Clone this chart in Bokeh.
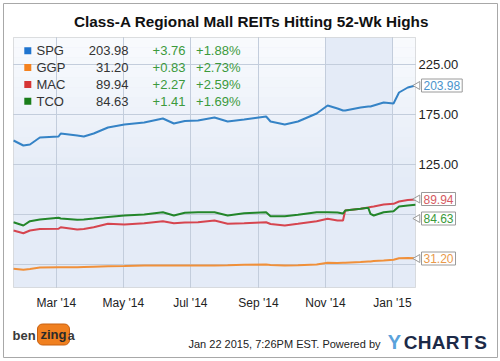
import math
import pandas as pd
from bokeh.plotting import figure
from bokeh.models import (Label, Range1d, MonthsTicker, DatetimeTickFormatter,
                          FixedTicker, NumeralTickFormatter, BoxAnnotation)
from bokeh.embed import file_html
from bokeh.resources import INLINE

# ---------------- data ----------------
dates = ["2014-01-21", "2014-01-30", "2014-02-05", "2014-02-14", "2014-03-03", "2014-03-05",
         "2014-03-20", "2014-03-26", "2014-04-04", "2014-04-17", "2014-05-02", "2014-05-20",
         "2014-06-06", "2014-06-16", "2014-06-26", "2014-07-08", "2014-07-23", "2014-08-04",
         "2014-08-19", "2014-09-08", "2014-09-12", "2014-09-25", "2014-10-07", "2014-10-24",
         "2014-11-03", "2014-11-12", "2014-11-17", "2014-11-19", "2014-12-03", "2014-12-10",
         "2014-12-12", "2014-12-15", "2014-12-24", "2015-01-02", "2015-01-07", "2015-01-15",
         "2015-01-22"]
spg = [149, 144, 145, 152, 153, 156, 154, 153, 156, 162, 165, 167, 171, 166, 168.5, 169, 172, 168,
       170, 173, 168, 165, 168, 176, 184, 181, 179, 179, 182, 183, 183, 184, 187, 186, 197, 202, 203.98]
ggp = [20.7, 19.7, 20.5, 22, 22.3, 22.3, 22.3, 22.5, 22.8, 23.2, 23.5, 24, 24, 24, 24, 24, 24, 24.2,
       24.7, 25, 24.5, 24, 24.2, 25, 26.7, 26.5, 26.7, 26.7, 27.5, 28, 28, 28.5, 29, 29.7, 31.3, 31.5, 31.20]
mac = [59, 56.3, 59, 60.5, 60.7, 62.3, 60, 60.5, 62.3, 65.7, 65, 66.3, 68.3, 66.3, 67, 67.3, 69, 65.7,
       66.3, 67.3, 65.5, 64, 65.7, 68.3, 70.7, 69, 69, 79, 80.7, 82, 82.5, 83, 85, 85.7, 88, 89.5, 89.94]
tco = [67.3, 64, 68.3, 70, 71.7, 71, 69.7, 70, 71, 72.5, 74, 75, 77.3, 74, 76.7, 77.3, 77.3, 74,
       76.3, 77.3, 73.3, 73.3, 74.7, 77.3, 77.3, 77, 76, 79, 80.7, 81.7, 75.7, 74, 77.3, 78.3, 83, 84, 84.63]

tickers = ["SPG", "GGP", "MAC", "TCO"]
last_values = ["203.98", "31.20", "89.94", "84.63"]
changes = ["+3.76", "+0.83", "+2.27", "+1.41"]
pct_changes = ["+1.88%", "+2.73%", "+2.59%", "+1.69%"]
y_ticks = [25, 75, 125, 175, 225]
grid_months = ["2014-03-01", "2014-05-01", "2014-07-01", "2014-09-01", "2014-11-01", "2015-01-01"]

series = [spg, ggp, mac, tco]
line_colors = ["#3583c6", "#f0903a", "#d6454f", "#23862a"]
label_colors = ["#4a93cc", "#e9994a", "#d65a62", "#3a9a3a"]
square_colors = ["#1f74cf", "#f4821f", "#d63535", "#1a7d1a"]

x = pd.to_datetime(dates)
x0 = pd.Timestamp(dates[0])
x1 = pd.Timestamp(dates[-1])
ms0 = x0.value / 1e6
ms1 = x1.value / 1e6

# plot-area placement in picture pixels (layout only)
FL, FR, FT, FB = 13, 415, 37, 287
Y0, Y1 = 2, 252


def px(rx):
    return ms0 + (rx - FL) / (FR - FL) * (ms1 - ms0)


def py(ry):
    return Y1 - (ry - FT) / (FB - FT) * (Y1 - Y0)


FONT = "Liberation Sans"
W, H = 500, 361

p = figure(width=W, height=H, output_backend="svg", toolbar_location=None,
           x_axis_type="datetime", y_axis_location="right",
           x_range=Range1d(px(3), px(497)), y_range=Range1d(py(357), py(3)),
           min_border_left=3, min_border_right=3, min_border_top=3, min_border_bottom=4)
p.title_location = None
p.background_fill_color = "white"
p.border_fill_color = "white"
p.outline_line_color = "#a8a8a8"

# plot-area background
p.add_layout(BoxAnnotation(left=ms0, right=ms1, bottom=Y0, top=Y1, fill_color="#e4ebf7",
                           fill_alpha=1, line_color=None, level="image"))
nov1 = pd.Timestamp("2014-11-01").value / 1e6
jan1 = pd.Timestamp("2015-01-01").value / 1e6
nslices = 14
for i in range(nslices):
    top = Y1 - i * 10
    bot = top - 10
    a = 0.75 * (1 - i / nslices)
    for l, r in [(ms0, nov1), (jan1, ms1)]:
        p.add_layout(BoxAnnotation(left=l, right=r, top=top, bottom=bot, fill_color="white",
                                   fill_alpha=a, line_color=None, level="image"))

# axes (fixed inside the enlarged frame)
xax = p.xaxis[0]
yax = p.yaxis[0]
xax.fixed_location = Y0
yax.fixed_location = ms1
xax.bounds = (ms0, ms1)
yax.bounds = (Y0, Y1)
month_ticker = MonthsTicker(months=[0, 2, 4, 6, 8, 10])
xax.ticker = month_ticker
xax.formatter = DatetimeTickFormatter(months="%b '%y", days="%b '%y")
yax.ticker = FixedTicker(ticks=[t for t in y_ticks if t >= 125])
yax.formatter = NumeralTickFormatter(format="0.00")
for ax in (xax, yax):
    ax.axis_line_color = None
    ax.major_tick_line_color = None
    ax.minor_tick_line_color = None
    ax.major_tick_out = 0
    ax.major_tick_in = 0
    ax.minor_tick_out = 0
    ax.minor_tick_in = 0
    ax.major_label_text_font = FONT
    ax.major_label_text_color = "#222222"
xax.major_label_text_font_size = "12px"
yax.major_label_text_font_size = "13px"
xax.major_label_standoff = 8
yax.major_label_standoff = 3

# grid lines limited to the plot area
GRID = "#c3cddc"
try:
    p.xgrid.ticker = month_ticker
    p.xgrid.bounds = (ms0, ms1)
    p.xgrid.cross_bounds = (Y0, Y1)
    p.ygrid.ticker = FixedTicker(ticks=y_ticks)
    p.ygrid.bounds = (Y0, Y1)
    p.ygrid.cross_bounds = (ms0, ms1)
    p.xgrid.grid_line_color = GRID
    p.ygrid.grid_line_color = GRID
except Exception:
    p.xgrid.visible = False
    p.ygrid.visible = False
    gx = pd.to_datetime(grid_months)
    p.segment(x0=gx, x1=gx, y0=[Y0] * len(gx), y1=[Y1] * len(gx), line_color=GRID)
    p.segment(x0=[x0] * len(y_ticks), x1=[x1] * len(y_ticks), y0=y_ticks, y1=y_ticks,
              line_color=GRID)

# lines
for vals, c in zip(series, line_colors):
    p.line(x, vals, line_color=c, line_width=2)

# plot-area border
p.add_layout(BoxAnnotation(left=ms0, right=ms1, bottom=Y0, top=Y1, fill_alpha=0,
                           line_color="#9c9c9c", line_width=1))

# legend table
row_y = [50.3, 67.1, 83.9, 100.7]
p.scatter([px(27.3)] * 4, [py(r) for r in row_y], marker="square", size=7,
          color=square_colors, line_color=None)
for i, r in enumerate(row_y):
    yy = py(r)
    p.add_layout(Label(x=px(36), y=yy, text=tickers[i], text_font=FONT, text_font_size="13px",
                       text_color="#333333", text_baseline="middle"))
    p.add_layout(Label(x=px(128), y=yy, text=last_values[i], text_font=FONT, text_font_size="13px",
                       text_color="#333333", text_baseline="middle", text_align="right"))
    p.add_layout(Label(x=px(185), y=yy, text=changes[i], text_font=FONT, text_font_size="13px",
                       text_color="#3c9a3c", text_baseline="middle", text_align="right"))
    p.add_layout(Label(x=px(240), y=yy, text=pct_changes[i], text_font=FONT, text_font_size="13px",
                       text_color="#3c9a3c", text_baseline="middle", text_align="right"))

# end-value callouts
label_ry = [85, 258, 198.5, 218]
p.scatter([px(417)] * 4, [py(r) for r in label_ry], marker="triangle", angle=math.pi / 2,
          size=8, fill_color="white", line_color="#9a9a9a")
for i in range(4):
    p.add_layout(Label(x=px(421), y=py(label_ry[i]), text=last_values[i], text_font=FONT,
                       text_font_size="12px", text_color=label_colors[i], text_baseline="middle",
                       background_fill_color="white", border_line_color="#9a9a9a", padding=2))


def txt(rx, ry, text, size, color, bold=False, align="left", **kw):
    p.add_layout(Label(x=px(rx), y=py(ry), text=text, text_font=FONT, text_font_size=f"{size}px",
                       text_color=color, text_font_style="bold" if bold else "normal",
                       text_align=align, text_baseline="middle", **kw))


# title
txt(251, 21, "Class-A Regional Mall REITs Hitting 52-Wk Highs", 15.3, "#111111", bold=True,
    align="center")

# footer
txt(380, 343, "Jan 22 2015, 7:26PM EST. Powered by", 11, "#222222", align="right")
txt(394, 341.5, "Y", 20, "#5aa2db", bold=True, align="center")
for j, ch in enumerate("CHARTS"):
    txt(410 + j * 14, 341.5, ch, 19, "#1c2a48", bold=True, align="center")

# benzinga logo (approximation)
txt(12, 335, "ben", 13, "#3a3a3a", bold=True)
txt(37, 334, "zing", 13, "#2a2a2a", bold=True, background_fill_color="#f08020",
    border_line_color="#c86010", border_radius=5, padding=3)
txt(67, 335, "a", 13, "#3a3a3a", bold=True)

open("out.html", "w").write(file_html(p, INLINE))
